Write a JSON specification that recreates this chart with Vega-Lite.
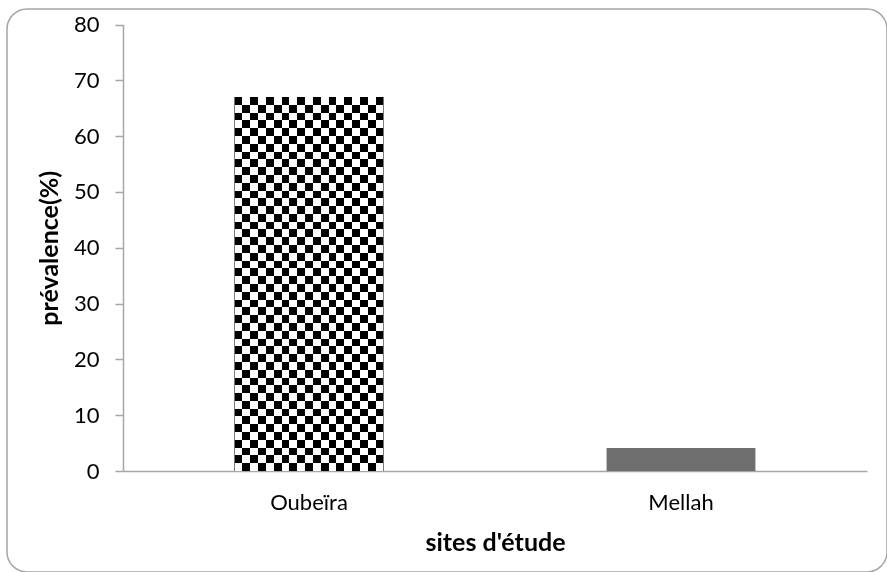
{
  "$schema": "https://vega.github.io/schema/vega-lite/v6.json",
  "width": 880,
  "height": 563,
  "autosize": {"type": "none"},
  "padding": {"left": 7, "top": 9, "right": 0, "bottom": 0},
  "background": "white",
  "config": {
    "view": {"stroke": "#a6a6a6", "strokeWidth": 1.5, "cornerRadius": 20, "fill": "white"},
    "font": "Lato"
  },
  "data": {"values": [
    {"site": "Oubeïra", "prevalence": 67},
    {"site": "Mellah", "prevalence": 4.1}
  ]},
  "encoding": {
    "x": {
      "field": "site", "type": "nominal", "sort": ["Oubeïra", "Mellah"],
      "scale": {"range": [116, 860], "paddingInner": 0.6, "paddingOuter": 0.3},
      "axis": {
        "title": "sites d'étude", "labelAngle": 0, "ticks": false, "tickSize": 0,
        "offset": -101, "domainColor": "#a6a6a6", "domainWidth": 1.5,
        "labelFontSize": 22, "labelColor": "#000000", "labelPadding": 21,
        "titleFontSize": 25, "titleFontWeight": "bold", "titleColor": "#000000", "titlePadding": 17
      }
    },
    "y": {
      "field": "prevalence", "type": "quantitative",
      "scale": {"domain": [0, 80], "range": [462, 15.5], "nice": false},
      "axis": {
        "values": [0, 10, 20, 30, 40, 50, 60, 70, 80], "grid": false,
        "offset": -116, "domainColor": "#a6a6a6", "domainWidth": 1.5,
        "tickColor": "#a6a6a6", "tickWidth": 1.5, "tickSize": 8,
        "labelFontSize": 22, "labelColor": "#000000", "labelPadding": 16,
        "title": "prévalence(%)", "titleFontSize": 25, "titleFontWeight": "bold",
        "titleColor": "#000000", "titlePadding": 11
      }
    }
  },
  "layer": [
    {"mark": {"type": "bar", "fill": "#6e6e6e"}},
    {
      "transform": [{"filter": "datum.site === 'Oubeïra'"}],
      "mark": {"type": "bar", "fill": {
        "gradient": "linear", "x1": 0, "y1": 0, "x2": 1, "y2": 0,
        "stops": [
          {"offset": 0, "color": "#000000"}, {"offset": 0.05263, "color": "#000000"},
          {"offset": 0.05263, "color": "#ffffff"}, {"offset": 0.10526, "color": "#ffffff"},
          {"offset": 0.10526, "color": "#000000"}, {"offset": 0.15789, "color": "#000000"},
          {"offset": 0.15789, "color": "#ffffff"}, {"offset": 0.21053, "color": "#ffffff"},
          {"offset": 0.21053, "color": "#000000"}, {"offset": 0.26316, "color": "#000000"},
          {"offset": 0.26316, "color": "#ffffff"}, {"offset": 0.31579, "color": "#ffffff"},
          {"offset": 0.31579, "color": "#000000"}, {"offset": 0.36842, "color": "#000000"},
          {"offset": 0.36842, "color": "#ffffff"}, {"offset": 0.42105, "color": "#ffffff"},
          {"offset": 0.42105, "color": "#000000"}, {"offset": 0.47368, "color": "#000000"},
          {"offset": 0.47368, "color": "#ffffff"}, {"offset": 0.52632, "color": "#ffffff"},
          {"offset": 0.52632, "color": "#000000"}, {"offset": 0.57895, "color": "#000000"},
          {"offset": 0.57895, "color": "#ffffff"}, {"offset": 0.63158, "color": "#ffffff"},
          {"offset": 0.63158, "color": "#000000"}, {"offset": 0.68421, "color": "#000000"},
          {"offset": 0.68421, "color": "#ffffff"}, {"offset": 0.73684, "color": "#ffffff"},
          {"offset": 0.73684, "color": "#000000"}, {"offset": 0.78947, "color": "#000000"},
          {"offset": 0.78947, "color": "#ffffff"}, {"offset": 0.84211, "color": "#ffffff"},
          {"offset": 0.84211, "color": "#000000"}, {"offset": 0.89474, "color": "#000000"},
          {"offset": 0.89474, "color": "#ffffff"}, {"offset": 0.94737, "color": "#ffffff"},
          {"offset": 0.94737, "color": "#000000"}, {"offset": 1, "color": "#000000"}
        ]
      }}
    },
    {
      "transform": [{"filter": "datum.site === 'Oubeïra'"}],
      "mark": {"type": "bar", "blend": "difference", "fill": {
        "gradient": "linear", "x1": 0, "y1": 0, "x2": 0, "y2": 1,
        "stops": [
          {"offset": 0, "color": "rgba(255,255,255,0)"}, {"offset": 0.02083, "color": "rgba(255,255,255,0)"},
          {"offset": 0.02083, "color": "#ffffff"}, {"offset": 0.04167, "color": "#ffffff"},
          {"offset": 0.04167, "color": "rgba(255,255,255,0)"}, {"offset": 0.0625, "color": "rgba(255,255,255,0)"},
          {"offset": 0.0625, "color": "#ffffff"}, {"offset": 0.08333, "color": "#ffffff"},
          {"offset": 0.08333, "color": "rgba(255,255,255,0)"}, {"offset": 0.10417, "color": "rgba(255,255,255,0)"},
          {"offset": 0.10417, "color": "#ffffff"}, {"offset": 0.125, "color": "#ffffff"},
          {"offset": 0.125, "color": "rgba(255,255,255,0)"}, {"offset": 0.14583, "color": "rgba(255,255,255,0)"},
          {"offset": 0.14583, "color": "#ffffff"}, {"offset": 0.16667, "color": "#ffffff"},
          {"offset": 0.16667, "color": "rgba(255,255,255,0)"}, {"offset": 0.1875, "color": "rgba(255,255,255,0)"},
          {"offset": 0.1875, "color": "#ffffff"}, {"offset": 0.20833, "color": "#ffffff"},
          {"offset": 0.20833, "color": "rgba(255,255,255,0)"}, {"offset": 0.22917, "color": "rgba(255,255,255,0)"},
          {"offset": 0.22917, "color": "#ffffff"}, {"offset": 0.25, "color": "#ffffff"},
          {"offset": 0.25, "color": "rgba(255,255,255,0)"}, {"offset": 0.27083, "color": "rgba(255,255,255,0)"},
          {"offset": 0.27083, "color": "#ffffff"}, {"offset": 0.29167, "color": "#ffffff"},
          {"offset": 0.29167, "color": "rgba(255,255,255,0)"}, {"offset": 0.3125, "color": "rgba(255,255,255,0)"},
          {"offset": 0.3125, "color": "#ffffff"}, {"offset": 0.33333, "color": "#ffffff"},
          {"offset": 0.33333, "color": "rgba(255,255,255,0)"}, {"offset": 0.35417, "color": "rgba(255,255,255,0)"},
          {"offset": 0.35417, "color": "#ffffff"}, {"offset": 0.375, "color": "#ffffff"},
          {"offset": 0.375, "color": "rgba(255,255,255,0)"}, {"offset": 0.39583, "color": "rgba(255,255,255,0)"},
          {"offset": 0.39583, "color": "#ffffff"}, {"offset": 0.41667, "color": "#ffffff"},
          {"offset": 0.41667, "color": "rgba(255,255,255,0)"}, {"offset": 0.4375, "color": "rgba(255,255,255,0)"},
          {"offset": 0.4375, "color": "#ffffff"}, {"offset": 0.45833, "color": "#ffffff"},
          {"offset": 0.45833, "color": "rgba(255,255,255,0)"}, {"offset": 0.47917, "color": "rgba(255,255,255,0)"},
          {"offset": 0.47917, "color": "#ffffff"}, {"offset": 0.5, "color": "#ffffff"},
          {"offset": 0.5, "color": "rgba(255,255,255,0)"}, {"offset": 0.52083, "color": "rgba(255,255,255,0)"},
          {"offset": 0.52083, "color": "#ffffff"}, {"offset": 0.54167, "color": "#ffffff"},
          {"offset": 0.54167, "color": "rgba(255,255,255,0)"}, {"offset": 0.5625, "color": "rgba(255,255,255,0)"},
          {"offset": 0.5625, "color": "#ffffff"}, {"offset": 0.58333, "color": "#ffffff"},
          {"offset": 0.58333, "color": "rgba(255,255,255,0)"}, {"offset": 0.60417, "color": "rgba(255,255,255,0)"},
          {"offset": 0.60417, "color": "#ffffff"}, {"offset": 0.625, "color": "#ffffff"},
          {"offset": 0.625, "color": "rgba(255,255,255,0)"}, {"offset": 0.64583, "color": "rgba(255,255,255,0)"},
          {"offset": 0.64583, "color": "#ffffff"}, {"offset": 0.66667, "color": "#ffffff"},
          {"offset": 0.66667, "color": "rgba(255,255,255,0)"}, {"offset": 0.6875, "color": "rgba(255,255,255,0)"},
          {"offset": 0.6875, "color": "#ffffff"}, {"offset": 0.70833, "color": "#ffffff"},
          {"offset": 0.70833, "color": "rgba(255,255,255,0)"}, {"offset": 0.72917, "color": "rgba(255,255,255,0)"},
          {"offset": 0.72917, "color": "#ffffff"}, {"offset": 0.75, "color": "#ffffff"},
          {"offset": 0.75, "color": "rgba(255,255,255,0)"}, {"offset": 0.77083, "color": "rgba(255,255,255,0)"},
          {"offset": 0.77083, "color": "#ffffff"}, {"offset": 0.79167, "color": "#ffffff"},
          {"offset": 0.79167, "color": "rgba(255,255,255,0)"}, {"offset": 0.8125, "color": "rgba(255,255,255,0)"},
          {"offset": 0.8125, "color": "#ffffff"}, {"offset": 0.83333, "color": "#ffffff"},
          {"offset": 0.83333, "color": "rgba(255,255,255,0)"}, {"offset": 0.85417, "color": "rgba(255,255,255,0)"},
          {"offset": 0.85417, "color": "#ffffff"}, {"offset": 0.875, "color": "#ffffff"},
          {"offset": 0.875, "color": "rgba(255,255,255,0)"}, {"offset": 0.89583, "color": "rgba(255,255,255,0)"},
          {"offset": 0.89583, "color": "#ffffff"}, {"offset": 0.91667, "color": "#ffffff"},
          {"offset": 0.91667, "color": "rgba(255,255,255,0)"}, {"offset": 0.9375, "color": "rgba(255,255,255,0)"},
          {"offset": 0.9375, "color": "#ffffff"}, {"offset": 0.95833, "color": "#ffffff"},
          {"offset": 0.95833, "color": "rgba(255,255,255,0)"}, {"offset": 0.97917, "color": "rgba(255,255,255,0)"},
          {"offset": 0.97917, "color": "#ffffff"}, {"offset": 1, "color": "#ffffff"}
        ]
      }}
    }
  ]
}
